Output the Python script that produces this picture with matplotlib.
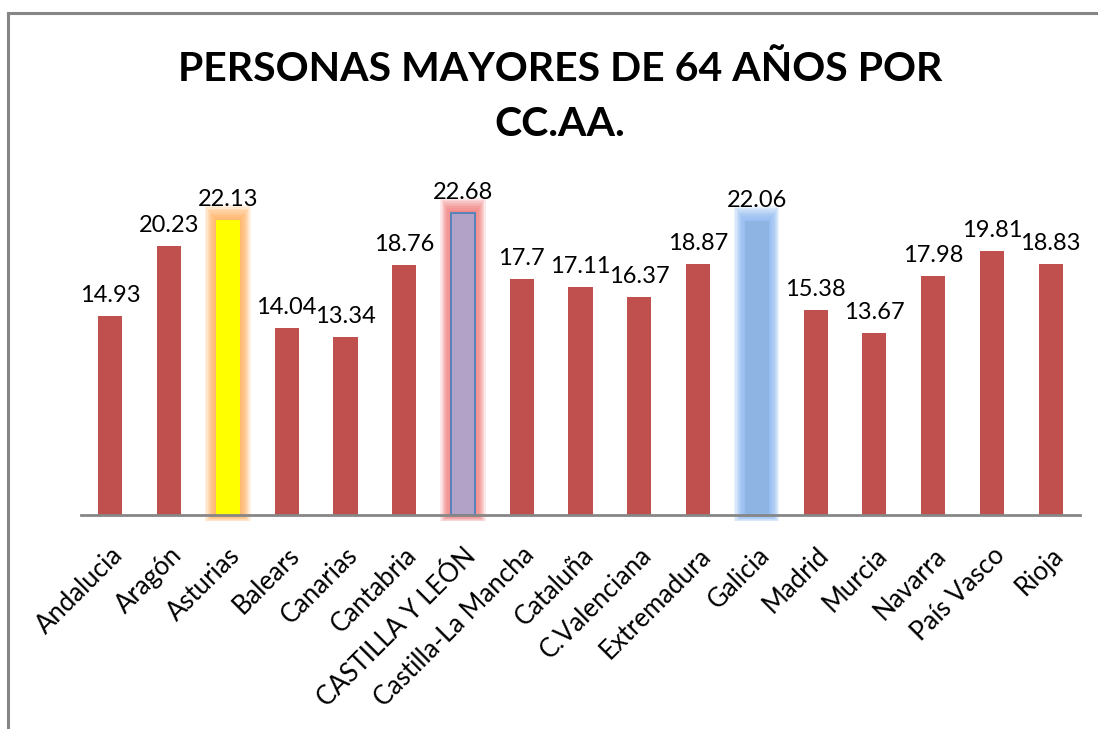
import matplotlib.pyplot as plt
from matplotlib.lines import Line2D

plt.rcParams['font.family'] = ['Lato', 'DejaVu Sans']

# datos
regiones = ['Andalucia', 'Aragón', 'Asturias', 'Balears', 'Canarias', 'Cantabria',
            'CASTILLA Y LEÓN', 'Castilla-La Mancha', 'Cataluña', 'C.Valenciana',
            'Extremadura', 'Galicia', 'Madrid', 'Murcia', 'Navarra', 'País Vasco', 'Rioja']
valores = [14.93, 20.23, 22.13, 14.04, 13.34, 18.76, 22.68, 17.7, 17.11, 16.37,
           18.87, 22.06, 15.38, 13.67, 17.98, 19.81, 18.83]
etiquetas = ['14.93', '20.23', '22.13', '14.04', '13.34', '18.76', '22.68', '17.7', '17.11',
             '16.37', '18.87', '22.06', '15.38', '13.67', '17.98', '19.81', '18.83']

# colores especiales: relleno, borde, brillo
especiales = {
    'Asturias': ('#FFFF00', '#FFFF00', '#FFA850'),
    'CASTILLA Y LEÓN': ('#B3A2C7', '#4F81BD', '#F07070'),
    'Galicia': ('#8EB4E3', '#8EB4E3', '#80B0F0'),
}

fig = plt.figure(figsize=(10.98, 7.29), dpi=100)
ax = fig.add_axes([0.0738, 0.2936, 0.9098, 0.4567])

x = list(range(len(regiones)))
ancho = 0.41

for i, (reg, v) in enumerate(zip(regiones, valores)):
    if reg in especiales:
        relleno, borde, brillo = especiales[reg]
        # halo difuso alrededor de la barra
        for k in range(9, 0, -1):
            px = 0.02 * k
            py = 0.09 * k
            ax.bar(i, v + 2 * py, width=ancho + 2 * px, bottom=-py * 0.6,
                   color=brillo, alpha=0.16, linewidth=0, clip_on=False, zorder=1)
        ax.bar(i, v, width=ancho, color=relleno, edgecolor=borde,
               linewidth=1.3 if borde != relleno else 0, zorder=2)
    else:
        ax.bar(i, v, width=ancho, color='#C0504D', linewidth=0, zorder=2)
    ax.text(i, v + 0.75, etiquetas[i], ha='center', va='bottom', fontsize=17, color='black')

ax.set_xlim(-0.5, len(regiones) - 0.5)
ax.set_ylim(0, 25)
ax.set_yticks([])
ax.set_xticks(x)
ax.set_xticklabels(regiones, rotation=45, ha='right', rotation_mode='anchor', fontsize=18.5)
ax.tick_params(axis='x', length=0, pad=20)
for s in ['top', 'right', 'left']:
    ax.spines[s].set_visible(False)
ax.spines['bottom'].set_color('#868686')
ax.spines['bottom'].set_linewidth(2)
ax.spines['bottom'].set_zorder(3)

fig.text(0.51, 0.867, 'PERSONAS MAYORES DE 64 AÑOS POR\nCC.AA.', ha='center', va='center',
         fontsize=29.5, fontweight='bold', linespacing=1.6)

# marco del gráfico
fig.add_artist(Line2D([8 / 1098, 8 / 1098], [0, 1 - 13 / 729], color='#868686', lw=2.2))
fig.add_artist(Line2D([8 / 1098, 1], [1 - 13 / 729, 1 - 13 / 729], color='#868686', lw=2.2))

fig.savefig('out.png', dpi=100)
